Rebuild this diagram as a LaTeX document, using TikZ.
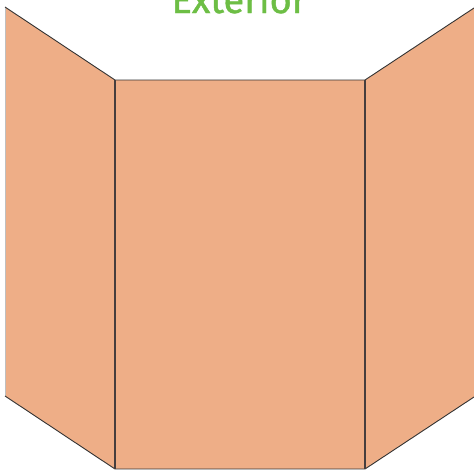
\documentclass[tikz,border=0pt]{standalone}
\usepackage{fontspec}
\setmainfont{Fira Sans}
\newfontfamily\titlefont[FakeBold=1.2]{Fira Sans}
\definecolor{panel}{HTML}{EEAE87}
\definecolor{edge}{HTML}{333333}
\definecolor{fold}{HTML}{463E3E}
\definecolor{title}{HTML}{6DBE45}
\begin{document}
\begin{tikzpicture}[x=1pt,y=-1pt,
  edgeline/.style={draw=edge,line width=0.9pt},
  foldline/.style={draw=fold,line width=2.2pt}]
\useasboundingbox (0,0) rectangle (474,471);
% left panel
\fill[panel] (5,7) -- (115,80) -- (115,469) -- (5,396) -- cycle;
% center panel
\fill[panel] (115,80) rectangle (365,469);
% right panel
\fill[panel] (365,80) -- (474,8) -- (474,397) -- (365,469) -- cycle;
\coordinate (lt) at (5,7);
\coordinate (lb) at (5,396);
\coordinate (clt) at (115,80);
\coordinate (clb) at (115,469);
\coordinate (crt) at (365,80);
\coordinate (crb) at (365,469);
\coordinate (rt) at (474,8);
\coordinate (rb) at (474,397);
\draw[draw=black!25,line width=0.8pt] (lt) -- (lb);
\draw[edgeline] (lt) -- (clt) -- (crt) -- (rt);
\draw[edgeline] (lb) -- (clb) -- (crb) -- (rb);
\draw[foldline] (clt) -- (clb);
\draw[foldline] (crt) -- (crb);
\node[anchor=base,text=title,font=\titlefont\fontsize{38}{38}\selectfont,inner sep=0pt] (t) at (239,13) {Exterior};
\end{tikzpicture}
\end{document}
